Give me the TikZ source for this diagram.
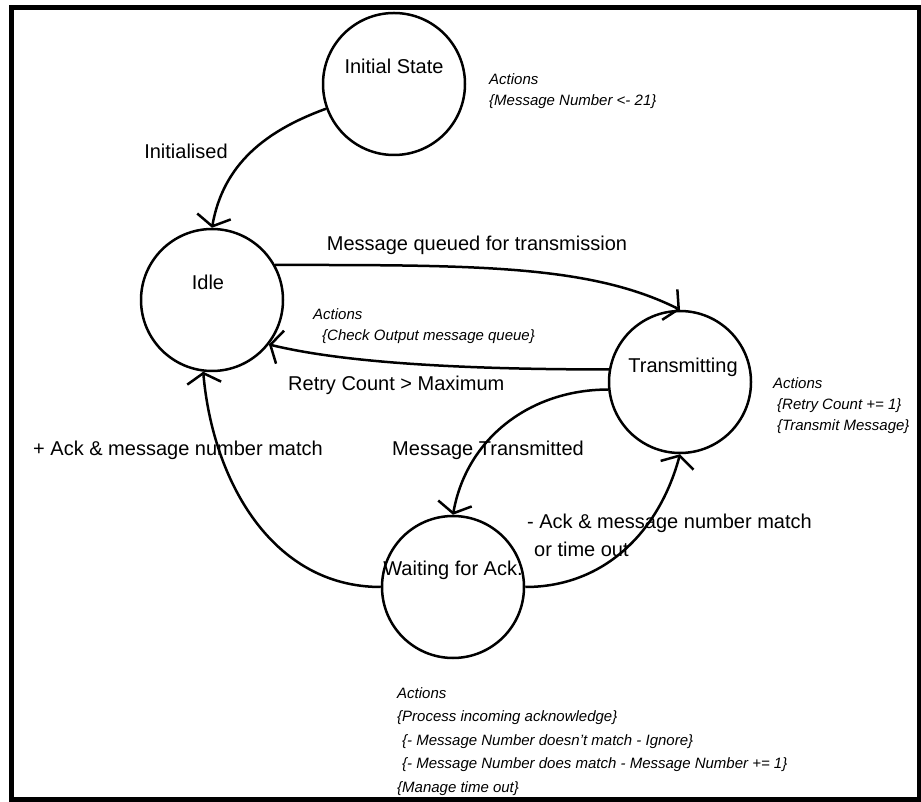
\documentclass[tikz,border=0pt]{standalone}
\usepackage{fontspec}
\setmainfont{Liberation Sans}
\usetikzlibrary{arrows.meta}

\begin{document}
\begin{tikzpicture}[x=1pt, y=1pt,
  state/.style={circle, draw, line width=2.5pt, minimum size=142pt, inner sep=0pt},
  lbl/.style={font=\fontsize{20}{28}\selectfont, inner sep=0pt},
  actions/.style={font=\fontsize{15}{21}\selectfont\itshape, align=left, anchor=north west, inner sep=0pt},
  link/.style={line width=2.5pt, -{Straight Barb[length=10pt, width=34pt]}}]
\useasboundingbox (0,0) rectangle (921,801);
% Cornice
\draw[line width=5pt] (11,793.5) rectangle (919.5,1.5);

% Stati
\node[state] (init) at (394,717) {};
\node[state] (idle) at (212,501) {};
\node[state] (tx) at (680,419) {};
\node[state] (wait) at (453,214) {};
\node[lbl] (init-txt) at ([yshift=18pt]init.center) {Initial State};
\node[lbl] (idle-txt) at ([xshift=-4pt, yshift=18pt]idle.center) {Idle};
\node[lbl] (tx-txt) at ([xshift=3pt, yshift=15pt]tx.center) {Transmitting};
\node[lbl] (wait-txt) at ([yshift=17pt]wait.center) {Waiting for Ack.};

% Transizioni
\draw[link] (init.200) to[out=200, in=80] (idle.north);
\draw[link] (idle.29) .. controls +(200,0) and +(-90,45) .. (tx.north);
\draw[link] (tx.170) .. controls +(-160,0) and +(70,-17) .. (idle.322);
\draw[link] (tx.186) to[out=180, in=80] (wait.north);
\draw[link] (wait.east) to[out=0, in=-105] (tx.south);
\draw[link] (wait.west) to[out=180, in=-85] (idle.263);

\node[lbl] (l-init) at (186,650) {Initialised};
\node[lbl] (l-queued) at (477,556) {Message queued for transmission};
\node[lbl, anchor=west] (l-retry) at (288,416) {Retry Count > Maximum};
\node[lbl] (l-sent) at (488,351) {Message Transmitted};
\node[lbl] (l-ackok) at (178,351) {+ Ack \& message number match};
\node[lbl, align=left, anchor=north west] (l-acknok) at (527,287) {- Ack \& message number match\\\hspace*{7pt}or time out};

% Azioni
\node[actions] (a-init) at (489,728) {Actions\\\{Message Number <- 21\}};
\node[actions] (a-idle) at (313,493) {Actions\\\hspace*{9pt}\{Check Output message queue\}};
\node[actions] (a-tx) at (773,424) {Actions\\\hspace*{4pt}\{Retry Count += 1\}\\\hspace*{4pt}\{Transmit Message\}};
\node[actions, font=\fontsize{15}{23.5}\selectfont\itshape] (a-wait) at (397,114) {Actions\\\{Process incoming acknowledge\}\\\hspace*{5pt}\{- Message Number doesn't match - Ignore\}\\\hspace*{5pt}\{- Message Number does match - Message Number += 1\}\\\{Manage time out\}};
\end{tikzpicture}
\end{document}
